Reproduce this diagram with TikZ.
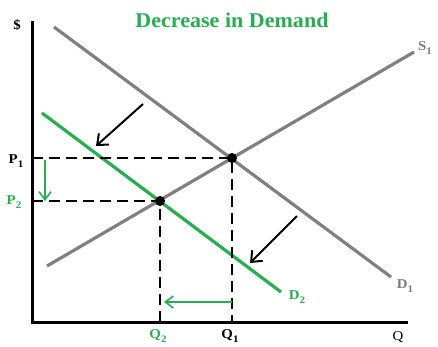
\documentclass[tikz,border=0pt]{standalone}
\usepackage{fontspec}
\setmainfont{Liberation Serif}
\usetikzlibrary{arrows.meta}
\definecolor{dgreen}{RGB}{34,177,76}
\definecolor{cgray}{RGB}{128,128,128}
\definecolor{lgray}{RGB}{120,120,128}
\newcommand{\lab}[2]{\textbf{#1}\raisebox{-0.6ex}{\textbf{\fontsize{10}{12}\selectfont #2}}}
\tikzset{
  axis/.style={line width=3pt, black, line join=miter},
  curve/.style={line width=3.2pt, cgray},
  dcurve/.style={line width=3.2pt, dgreen},
  guide/.style={line width=2pt, dash pattern=on 11pt off 6pt},
  eqdot/.style={circle, fill=black, inner sep=0pt, minimum size=10pt},
  shiftarr/.style={line width=2pt, -{Straight Barb[length=9pt,width=15pt,line width=2pt]}},
  garr/.style={line width=1.6pt, dgreen, -{Straight Barb[length=8pt,width=12pt,line width=1.6pt]}},
  lbl/.style={inner sep=0pt, font=\fontsize{13.5}{15}\selectfont, xscale=1.1, transform shape},
}
\begin{document}
\begin{tikzpicture}[x=1pt,y=-1pt]
\useasboundingbox (0,0) rectangle (438,346);
% coordinates
\coordinate (ytop) at (32,21);
\coordinate (orig) at (32,322);
\coordinate (xend) at (408,322);
\coordinate (d1a) at (54,27);
\coordinate (d1b) at (391,277);
\coordinate (s1a) at (47,266);
\coordinate (s1b) at (414,52);
\coordinate (d2a) at (42,113);
\coordinate (d2b) at (281,292);
\coordinate (p1) at (32,158);
\coordinate (p2) at (32,201);
\coordinate (q1) at (232,322);
\coordinate (q2) at (160,322);
% axes
\draw[axis] (ytop) -- (orig) -- (xend);
% curves
\draw[curve] (d1a) -- (d1b);
\draw[curve] (s1a) -- (s1b);
\draw[dcurve] (d2a) -- (d2b);
% equilibria
\node[eqdot] (e1) at (232,158) {};
\node[eqdot] (e2) at (160,201) {};
% guides
\draw[guide] (p1) -- (e1.center) -- (q1);
\draw[guide] (p2) -- (e2.center) -- (q2);
% shift arrows
\coordinate (a1s) at (143,104);
\coordinate (a1e) at (96,146);
\coordinate (a2s) at (297,216);
\coordinate (a2e) at (250,263);
\draw[shiftarr] (a1s) -- (a1e);
\draw[shiftarr] (a2s) -- (a2e);
\coordinate (g1s) at (45,160);
\coordinate (g1e) at (45,201);
\coordinate (g2s) at (232,302);
\coordinate (g2e) at (164,302);
\draw[garr] (g1s) -- (g1e);
\draw[garr] (g2s) -- (g2e);
% labels
\node[font=\fontsize{21}{24}\selectfont\bfseries, text=dgreen, inner sep=0pt, xscale=1.05, transform shape] (title) at (232,20) {Decrease in Demand};
\node[lbl] (dollar) at (17,25) {\textbf{\$}};
\node[lbl] (lp1) at (16,161) {\lab{P}{1}};
\node[lbl, text=dgreen] (lp2) at (14,202) {\lab{P}{2}};
\node[lbl, text=dgreen] (lq2) at (158,336) {\lab{Q}{2}};
\node[lbl] (lq1) at (230,336) {\lab{Q}{1}};
\node[lbl] (lq) at (398,337) {Q};
\node[lbl, text=lgray] (ls1) at (425,48) {\lab{S}{1}};
\node[lbl, text=lgray] (ld1) at (405,286) {\lab{D}{1}};
\node[lbl, text=dgreen] (ld2) at (297,297) {\lab{D}{2}};
\end{tikzpicture}
\end{document}
